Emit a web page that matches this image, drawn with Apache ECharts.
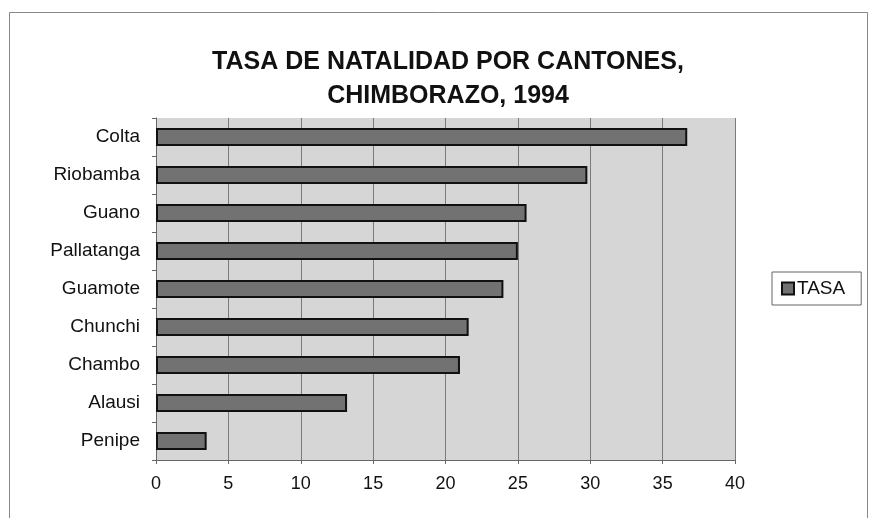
<!DOCTYPE html>
<html>
<head>
<meta charset="utf-8">
<script src="https://cdn.jsdelivr.net/npm/echarts@6/dist/echarts.min.js"></script>
<style>
html, body { margin: 0; padding: 0; background: #fff; }
#main { width: 871px; height: 518px; }
</style>
</head>
<body>
<div id="main"></div>
<script>
// cantones (de abajo hacia arriba)
var cantones = ['Penipe', 'Alausi', 'Chambo', 'Chunchi', 'Guamote', 'Pallatanga', 'Guano', 'Riobamba', 'Colta'];
var tasa = [3.5, 13.2, 21.0, 21.6, 24.0, 25.0, 25.6, 29.8, 36.7];
var xTicks = [0, 5, 10, 15, 20, 25, 30, 35, 40];

var chart = echarts.init(document.getElementById('main'));

var option = {
    backgroundColor: '#ffffff',
    animation: false,
    title: {
        text: 'TASA DE NATALIDAD POR CANTONES,\nCHIMBORAZO, 1994',
        left: 448,
        top: 45,
        padding: 0,
        textAlign: 'center',
        textStyle: {
            fontFamily: 'Liberation Sans',
            fontSize: 25,
            fontWeight: 'bold',
            color: '#111',
            lineHeight: 34
        }
    },
    legend: {
        data: ['TASA'],
        left: 772,
        top: 272,
        orient: 'vertical',
        borderColor: '#666',
        borderWidth: 1,
        padding: [7, 16, 7, 9],
        icon: 'rect',
        itemWidth: 12,
        itemHeight: 12,
        itemGap: 4,
        textStyle: { fontFamily: 'Liberation Sans', fontSize: 19, color: '#111', padding: [0, 0, 0, -2] }
    },
    grid: {
        left: 156,
        right: 136,
        top: 118,
        bottom: 58,
        show: true,
        backgroundColor: '#d6d6d6',
        borderWidth: 0
    },
    xAxis: {
        type: 'value',
        min: 0,
        max: 40,
        interval: 5,
        axisLine: { show: true, lineStyle: { color: '#666', width: 1 } },
        axisTick: { show: true, length: 4, inside: false, lineStyle: { color: '#666' } },
        splitLine: { show: true, lineStyle: { color: '#7a7a7a', width: 1 } },
        axisLabel: {
            margin: 15,
            fontFamily: 'Liberation Sans',
            fontSize: 18,
            color: '#111',
            formatter: function (v) { return xTicks.indexOf(v) >= 0 ? String(v) : ''; }
        }
    },
    yAxis: {
        type: 'category',
        data: cantones,
        axisLine: { show: true, lineStyle: { color: '#666', width: 1 } },
        axisTick: { show: true, length: 4, lineStyle: { color: '#666' } },
        axisLabel: {
            margin: 16,
            fontFamily: 'Liberation Sans',
            fontSize: 19,
            color: '#111'
        }
    },
    series: [{
        name: 'TASA',
        type: 'bar',
        data: tasa,
        barWidth: '48%',
        itemStyle: {
            color: '#727272',
            borderColor: '#111',
            borderWidth: 2
        }
    }],
    graphic: [{
        type: 'rect',
        left: 7,
        top: 10,
        shape: { width: 858, height: 530 },
        style: { fill: 'none', stroke: '#888', lineWidth: 1 },
        silent: true,
        z: -1
    }]
};

chart.setOption(option);
</script>
</body>
</html>
